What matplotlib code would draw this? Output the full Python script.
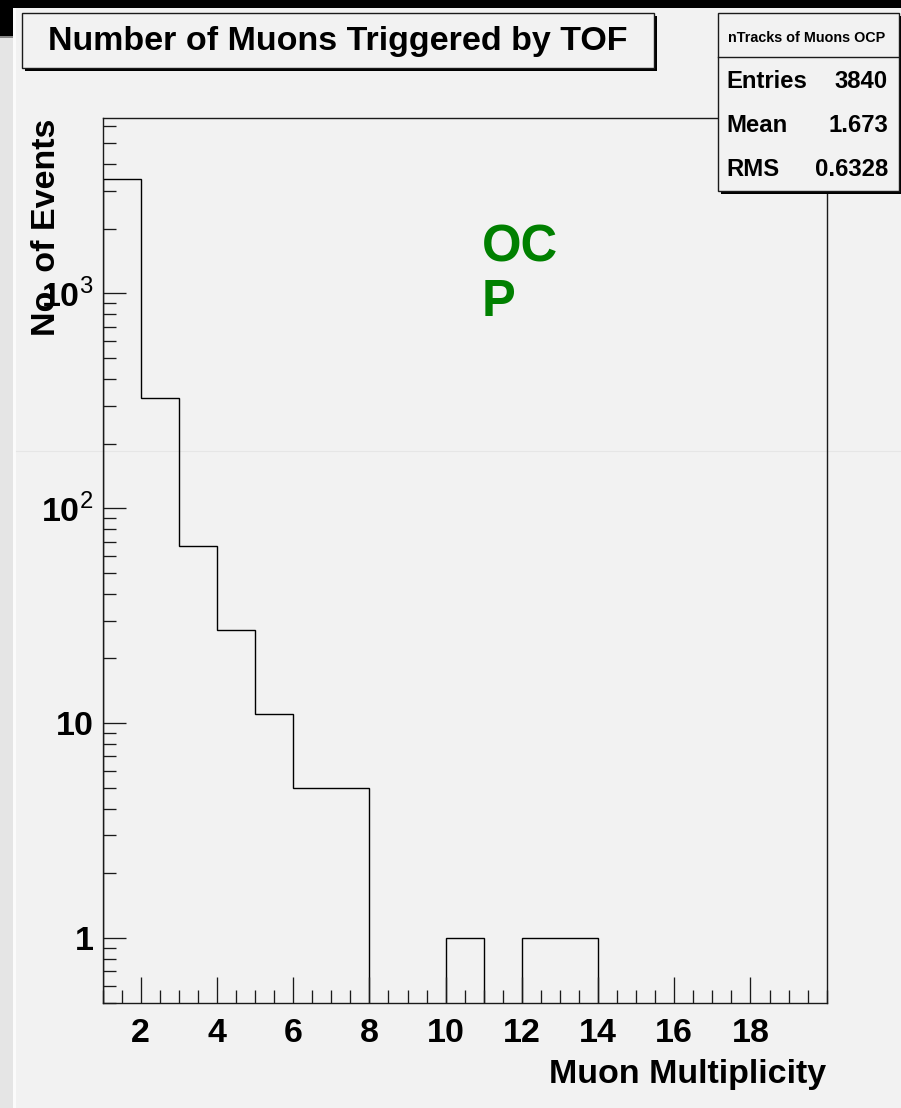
import numpy as np
import matplotlib.pyplot as plt
from matplotlib.patches import Rectangle
from matplotlib.ticker import FixedLocator, MultipleLocator, LogLocator, NullFormatter

plt.rcParams['font.family'] = ['Liberation Sans', 'DejaVu Sans']
plt.rcParams['mathtext.fontset'] = 'custom'
plt.rcParams['mathtext.rm'] = 'Liberation Sans'
plt.rcParams['mathtext.bf'] = 'Liberation Sans:bold'

# muon multiplicity histogram, unit-width bins from 1 to 20
bin_edges = np.arange(1, 21)
counts = np.array([3395, 327, 67, 27, 11, 5, 5, 0, 0, 1, 0, 1, 1, 0, 0, 0, 0, 0, 0])

title = 'Number of Muons Triggered by TOF'
stats_name = 'nTracks of Muons OCP'
stats_rows = [('Entries', '3840'), ('Mean', '1.673'), ('RMS', '0.6328')]
x_ticks = [2, 4, 6, 8, 10, 12, 14, 16, 18]
y_ticks = [1, 10, 100, 1000]
y_tick_labels = ['1', '10', r'$\mathbf{10}^{2}$', r'$\mathbf{10}^{3}$']

W, H = 901, 1108
bg_col = '#f2f2f2'
fig = plt.figure(figsize=(W / 100, H / 100), dpi=100, facecolor=bg_col)


def px_axes(z):
    # full-figure axes in pixel units, y pointing down
    a = fig.add_axes([0, 0, 1, 1], zorder=z)
    a.set_xlim(0, W)
    a.set_ylim(H, 0)
    a.axis('off')
    a.patch.set_visible(False)
    return a


# window edges around the canvas
bg = px_axes(0)
bg.add_patch(Rectangle((0, 0), W, 8, color='black', lw=0))
bg.add_patch(Rectangle((0, 0), 13, 37, color='black', lw=0))
bg.add_patch(Rectangle((0, 37), 13, H, color='#e5e5e5', lw=0))
bg.add_patch(Rectangle((0, 36), 13, 2, color='#888888', lw=0))
bg.add_patch(Rectangle((13, 8), 3, H, color='#fbfbfb', lw=0))
bg.plot([16, W], [451, 451], color='#e6e6e6', lw=0.8)

# histogram frame
left, right, top, bottom = 102.7, 826.7, 118.3, 1002.7
ax = fig.add_axes([left / W, 1 - bottom / H, (right - left) / W, (bottom - top) / H], zorder=1)
ax.patch.set_visible(False)

floor = 1e-3
ax.stairs(np.where(counts > 0, counts, floor), bin_edges, baseline=floor,
          color='black', lw=1.0)

ax.set_yscale('log')
ax.set_xlim(1, 20)
ax.set_ylim(0.5, 6530)

ax.xaxis.set_major_locator(FixedLocator(x_ticks))
ax.xaxis.set_minor_locator(MultipleLocator(0.5))
ax.yaxis.set_major_locator(FixedLocator(y_ticks))
ax.set_yticklabels(y_tick_labels)
ax.yaxis.set_minor_locator(LogLocator(base=10, subs=np.arange(2, 10)))
ax.yaxis.set_minor_formatter(NullFormatter())

for s in ax.spines.values():
    s.set_linewidth(1.0)
    s.set_color('#1a1a1a')

ax.tick_params(which='both', direction='in', top=False, right=False,
               width=0.95, color='#1a1a1a')
ax.tick_params(axis='x', which='major', length=18.7, pad=11)
ax.tick_params(axis='x', which='minor', length=9.1)
ax.tick_params(axis='y', which='major', length=16.6, pad=6.5)
ax.tick_params(axis='y', which='minor', length=9.1)
for lab in ax.get_xticklabels() + ax.get_yticklabels():
    lab.set_fontsize(24.5)
    lab.set_fontweight('bold')

# overlay: title, stats box, axis titles, annotation
ov = px_axes(2)


def shadow_box(x0, y0, x1, y1):
    ov.add_patch(Rectangle((x0 + 3, y0 + 3), x1 - x0, y1 - y0,
                           facecolor='black', edgecolor='none'))
    ov.add_patch(Rectangle((x0, y0), x1 - x0, y1 - y0,
                           facecolor=bg_col, edgecolor='#1a1a1a', lw=1.0))


shadow_box(22, 13, 654, 68)
ov.text(338, 50, title, ha='center', va='baseline', fontsize=24.5, fontweight='bold')

shadow_box(718, 13, 899, 191)
ov.plot([718, 899], [57, 57], color='#1a1a1a', lw=1.0)
ov.text(806.5, 42, stats_name, ha='center', va='baseline', fontsize=10.4, fontweight='bold')
for (name, val), yb in zip(stats_rows, [87.5, 132, 176.5]):
    ov.text(726, yb, name, ha='left', va='baseline', fontsize=17.2, fontweight='bold')
    ov.text(888, yb, val, ha='right', va='baseline', fontsize=17.2, fontweight='bold')

ov.text(826, 1083, 'Muon Multiplicity', ha='right', va='baseline',
        fontsize=24.5, fontweight='bold')
ov.text(55, 119, 'No. of Events', rotation=90, ha='right', va='baseline',
        rotation_mode='anchor', fontsize=24.5, fontweight='bold')

ov.text(482, 261, 'OC', ha='left', va='baseline', color='#008000',
        fontsize=36.5, fontweight='bold')
ov.text(482, 316, 'P', ha='left', va='baseline', color='#008000',
        fontsize=36.5, fontweight='bold')

fig.savefig('out.png', dpi=100, facecolor=bg_col)
